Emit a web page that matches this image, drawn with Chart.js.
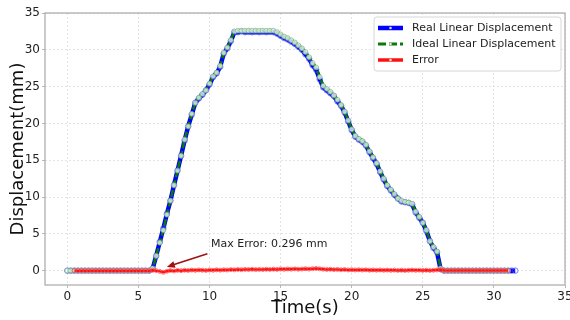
<!DOCTYPE html>
<html>
<head>
<meta charset="utf-8">
<script src="https://cdn.jsdelivr.net/npm/chart.js@4"></script>
<style>
  html, body { margin: 0; padding: 0; background: #fff; }
</style>
</head>
<body>
<canvas id="chart" width="570" height="320"></canvas>
<script>
// time axis (s), sampled every 0.25 s
const times = [
  0, 0.25, 0.5, 0.75, 1, 1.25, 1.5, 1.75, 2, 2.25, 2.5, 2.75, 3, 3.25, 3.5, 3.75,
  4, 4.25, 4.5, 4.75, 5, 5.25, 5.5, 5.75, 6, 6.25, 6.5, 6.75, 7, 7.25, 7.5, 7.75,
  8, 8.25, 8.5, 8.75, 9, 9.25, 9.5, 9.75, 10, 10.25, 10.5, 10.75, 11, 11.25, 11.5, 11.75,
  12, 12.25, 12.5, 12.75, 13, 13.25, 13.5, 13.75, 14, 14.25, 14.5, 14.75, 15, 15.25, 15.5, 15.75,
  16, 16.25, 16.5, 16.75, 17, 17.25, 17.5, 17.75, 18, 18.25, 18.5, 18.75, 19, 19.25, 19.5, 19.75,
  20, 20.25, 20.5, 20.75, 21, 21.25, 21.5, 21.75, 22, 22.25, 22.5, 22.75, 23, 23.25, 23.5, 23.75,
  24, 24.25, 24.5, 24.75, 25, 25.25, 25.5, 25.75, 26, 26.25, 26.5, 26.75, 27, 27.25, 27.5, 27.75,
  28, 28.25, 28.5, 28.75, 29, 29.25, 29.5, 29.75, 30, 30.25, 30.5, 30.75, 31, 31.25, 31.5
];

// real linear displacement (mm)
const realDisp = [
  0, 0, 0, 0, 0, 0, 0, 0, 0, 0, 0, 0, 0, 0, 0, 0, 0, 0, 0, 0, 0, 0, 0, 0,
  0.25, 2.0, 3.9, 5.7, 7.7, 9.5, 11.6, 13.6, 15.6, 17.7, 19.6, 21.2,
  22.8, 23.4, 23.9, 24.5, 25.3, 26.3, 26.8, 27.7, 29.5, 30.2, 31.2, 32.4,
  32.4, 32.5, 32.4, 32.45, 32.4, 32.45, 32.4, 32.45, 32.4, 32.45, 32.4,
  32.2, 31.9, 31.6, 31.4, 31.1, 30.8, 30.4, 30.0, 29.4, 28.8, 27.9, 27.3,
  26.0, 24.9, 24.5, 24.1, 23.7, 23.0, 22.4, 21.5, 20.3, 19.1, 18.2, 17.8,
  17.5, 17.0, 16.1, 15.3, 14.5, 13.4, 12.4, 11.5, 10.9, 10.3, 9.8, 9.4,
  9.3, 9.2, 9.0, 7.9, 7.2, 6.5, 5.4, 4.0, 3.1, 2.5, 0.2,
  0, 0, 0, 0, 0, 0, 0, 0, 0, 0, 0, 0, 0, 0, 0, 0, 0, 0, 0, 0, 0
];

// ideal linear displacement (mm), ends at 31 s
const idealDisp = [
  0, 0, 0, 0, 0, 0, 0, 0, 0, 0, 0, 0, 0, 0, 0, 0, 0, 0, 0, 0, 0, 0, 0, 0,
  0.3, 2.0, 3.8, 5.5, 7.6, 9.5, 11.6, 13.6, 15.6, 17.8, 19.6, 21.3,
  22.8, 23.5, 24.0, 24.5, 25.4, 26.4, 26.9, 27.8, 29.6, 30.3, 31.3, 32.5,
  32.6, 32.6, 32.6, 32.6, 32.6, 32.6, 32.6, 32.6, 32.6, 32.6, 32.6,
  32.4, 32.1, 31.8, 31.6, 31.3, 31.0, 30.6, 30.2, 29.7, 29.0, 28.2, 27.6,
  26.3, 25.1, 24.7, 24.3, 23.8, 23.2, 22.5, 21.6, 20.4, 19.2, 18.3, 17.9,
  17.6, 17.1, 16.2, 15.4, 14.6, 13.5, 12.5, 11.6, 11.0, 10.4, 9.8, 9.5,
  9.35, 9.25, 9.1, 8.0, 7.3, 6.5, 5.5, 4.0, 3.2, 2.6, 0.3,
  0, 0, 0, 0, 0, 0, 0, 0, 0, 0, 0, 0, 0, 0, 0, 0, 0, 0, 0, null, null
];

// error (mm)
const errorDisp = [
  null, null,
  0, 0, 0, 0, 0, 0, 0, 0, 0, 0, 0, 0, 0, 0, 0, 0, 0, 0, 0, 0, 0, 0,
  0.05, 0.0, -0.1, -0.22, -0.08, 0.02, -0.05, 0.04, 0.0, 0.06, 0.02, 0.08,
  0.04, 0.1, 0.06, 0.03, 0.09, 0.05, 0.11, 0.07, 0.12, 0.09, 0.14, 0.11,
  0.16, 0.13, 0.17, 0.15, 0.18, 0.14, 0.17, 0.15, 0.19, 0.16, 0.2, 0.17,
  0.22, 0.18, 0.23, 0.2, 0.24, 0.19, 0.22, 0.26, 0.21, 0.27, 0.296, 0.25,
  0.2, 0.16, 0.19, 0.14, 0.17, 0.12, 0.15, 0.1, 0.13, 0.09, 0.12, 0.08,
  0.11, 0.07, 0.1, 0.06, 0.09, 0.05, 0.08, 0.04, 0.07, 0.03, 0.06, 0.02,
  0.05, 0.08, 0.04, 0.07, 0.03, 0.06, 0.02, 0.05, 0.09, 0.14,
  0.02, 0.01, 0.02, 0.01, 0.02, 0.01, 0.02, 0.01, 0.02, 0.01, 0.02, 0.01,
  0.02, 0.01, 0.02, 0.01, 0.02, 0.01, 0.02,
  null, null
];

const seriesNames = ["Real Linear Displacement", "Ideal Linear Displacement", "Error"];
const maxErrorLabel = "Max Error: 0.296 mm";

const FONT = "'DejaVu Sans', sans-serif";
const toXY = (arr) => times.map((t, i) => ({ x: t, y: arr[i] }));

// ----------------------------------
// frame, annotation and legend
// ----------------------------------
const extras = {
  id: "extras",
  afterDraw(chart) {
    const { ctx, chartArea: a, scales } = chart;
    const sx = scales.x, sy = scales.y;
    ctx.save();

    // box round the plot
    ctx.strokeStyle = "#a8a8a8";
    ctx.lineWidth = 1.2;
    ctx.strokeRect(a.left, a.top, a.right - a.left, a.bottom - a.top);

    // arrow + text
    const x0 = sx.getPixelForValue(9.85), y0 = sy.getPixelForValue(2.3);
    const x1 = sx.getPixelForValue(7.0), y1 = sy.getPixelForValue(0.5);
    const ang = Math.atan2(y1 - y0, x1 - x0);
    ctx.strokeStyle = "#a01010";
    ctx.fillStyle = "#a01010";
    ctx.lineWidth = 1.6;
    ctx.beginPath();
    ctx.moveTo(x0, y0);
    ctx.lineTo(x1 - 6 * Math.cos(ang), y1 - 6 * Math.sin(ang));
    ctx.stroke();
    ctx.beginPath();
    ctx.moveTo(x1, y1);
    ctx.lineTo(x1 - 8 * Math.cos(ang) + 3.5 * Math.sin(ang), y1 - 8 * Math.sin(ang) - 3.5 * Math.cos(ang));
    ctx.lineTo(x1 - 8 * Math.cos(ang) - 3.5 * Math.sin(ang), y1 - 8 * Math.sin(ang) + 3.5 * Math.cos(ang));
    ctx.closePath();
    ctx.fill();

    ctx.fillStyle = "#222";
    ctx.font = "11px " + FONT;
    ctx.textAlign = "left";
    ctx.textBaseline = "middle";
    ctx.fillText(maxErrorLabel, sx.getPixelForValue(10.1), sy.getPixelForValue(3.55));

    // legend box
    const lx = a.right - 191, ly = a.top + 4, lw = 187, lh = 54;
    ctx.fillStyle = "rgba(255,255,255,0.9)";
    ctx.strokeStyle = "#d6d6d6";
    ctx.lineWidth = 1;
    ctx.beginPath();
    ctx.roundRect(lx, ly, lw, lh, 3);
    ctx.fill();
    ctx.stroke();

    const styles = [
      { color: "#0000ff", width: 4.5, dash: [] },
      { color: "#0a7a0a", width: 3, dash: [8, 3] },
      { color: "#ff1010", width: 3.5, dash: [] },
    ];
    seriesNames.forEach((name, i) => {
      const yy = ly + 11 + i * 16;
      const st = styles[i];
      ctx.strokeStyle = st.color;
      ctx.lineWidth = st.width;
      ctx.setLineDash(st.dash);
      ctx.beginPath();
      ctx.moveTo(lx + 4, yy);
      ctx.lineTo(lx + 29, yy);
      ctx.stroke();
      ctx.setLineDash([]);
      ctx.fillStyle = "rgba(255,255,255,0.85)";
      ctx.beginPath();
      ctx.arc(lx + 16.5, yy, 1.3, 0, Math.PI * 2);
      ctx.fill();
      ctx.fillStyle = "#222";
      ctx.font = "11px " + FONT;
      ctx.fillText(name, lx + 38, yy + 0.5);
    });

    ctx.restore();
  },
};

new Chart(document.getElementById("chart"), {
  type: "line",
  data: {
    datasets: [
      {
        label: seriesNames[0],
        data: toXY(realDisp),
        borderColor: "#0000ff",
        borderWidth: 4.5,
        pointRadius: 2.8,
        pointBorderWidth: 1,
        pointBackgroundColor: "rgba(255,255,255,0)",
        pointBorderColor: "rgba(70,70,255,0.7)",
        order: 3,
      },
      {
        label: seriesNames[1],
        data: toXY(idealDisp),
        borderColor: "#0a7a0a",
        borderWidth: 2.5,
        borderDash: [7, 3],
        pointRadius: 2.4,
        pointBorderWidth: 1,
        pointBackgroundColor: "rgba(255,255,255,0.75)",
        pointBorderColor: "rgba(110,190,110,0.7)",
        order: 2,
      },
      {
        label: seriesNames[2],
        data: toXY(errorDisp),
        borderColor: "#ff1010",
        borderWidth: 2.5,
        pointRadius: 2,
        pointBorderWidth: 1,
        pointBackgroundColor: "rgba(255,255,255,0)",
        pointBorderColor: "rgba(255,60,60,0.7)",
        order: 1,
      },
    ],
  },
  options: {
    responsive: false,
    animation: false,
    layout: { padding: { top: 13, right: 4, left: 0, bottom: 0 } },
    plugins: {
      legend: { display: false },
      tooltip: { enabled: false },
    },
    scales: {
      x: {
        type: "linear",
        min: -1.57,
        max: 35,
        afterFit: (s) => {
          s.height = 35;
          s.paddingLeft = 0;
          s.paddingRight = 0;
        },
        ticks: {
          stepSize: 5,
          includeBounds: false,
          color: "#222",
          font: { family: FONT, size: 12 },
          padding: 2,
          maxRotation: 0,
        },
        grid: {
          color: "#dcdcdc",
          lineWidth: 0.8,
          tickLength: 3,
          tickColor: "#a8a8a8",
        },
        border: { display: false, dash: [2, 2] },
        title: {
          display: true,
          text: "Time(s)",
          color: "#111",
          font: { family: FONT, size: 18 },
          padding: { top: 0, bottom: 1 },
        },
      },
      y: {
        min: -1.95,
        max: 35,
        afterFit: (s) => {
          s.width = 45;
          s.paddingTop = 0;
          s.paddingBottom = 0;
        },
        ticks: {
          stepSize: 5,
          includeBounds: false,
          color: "#222",
          font: { family: FONT, size: 12 },
          padding: 2,
        },
        grid: {
          color: "#dcdcdc",
          lineWidth: 0.8,
          tickLength: 3,
          tickColor: "#a8a8a8",
        },
        border: { display: false, dash: [2, 2] },
        title: {
          display: true,
          text: "Displacement(mm)",
          color: "#111",
          font: { family: FONT, size: 18 },
          padding: { top: 8, bottom: 0 },
        },
      },
    },
  },
  plugins: [extras],
});
</script>
</body>
</html>
